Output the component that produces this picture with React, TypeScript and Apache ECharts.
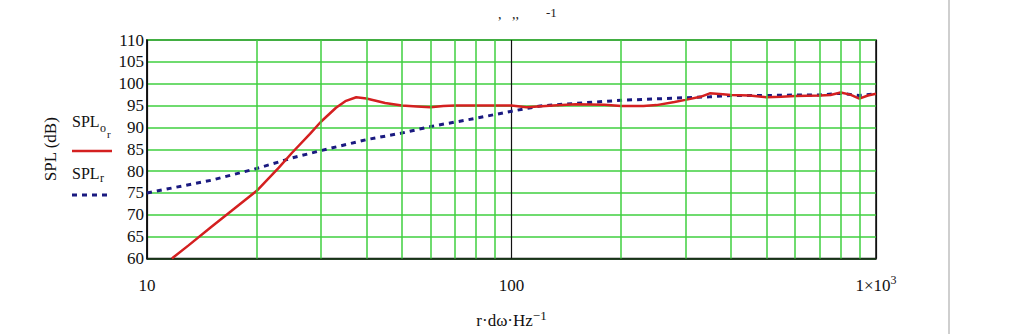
import React, { useEffect, useRef } from "react";
import * as echarts from "echarts";

const redFreq = [11.7, 13, 15, 17, 20, 23, 25, 28, 30, 33, 35, 37.5, 40, 45, 50, 55, 60, 65, 70, 80, 90, 100, 110, 130, 150, 180, 200, 230, 250, 280, 300, 330, 350, 380, 400, 450, 500, 550, 600, 700, 750, 800, 850, 900, 950, 1000];
const redSpl = [60, 63, 67.2, 70.8, 75.5, 80.8, 84.2, 88.5, 91.3, 94.5, 96, 96.9, 96.6, 95.6, 95.0, 94.8, 94.6, 94.9, 95.0, 95.0, 95.0, 95.0, 94.6, 95.0, 95.3, 95.2, 94.9, 94.9, 95.1, 95.8, 96.3, 97.0, 97.8, 97.6, 97.4, 97.3, 96.9, 97.0, 97.2, 97.3, 97.4, 98.0, 97.5, 96.6, 97.3, 97.7];

const blueFreq = [10, 15, 20, 25, 30, 40, 50, 60, 80, 100, 120, 150, 200, 300, 350, 400, 500, 600, 700, 800, 900, 1000];
const blueSpl = [75, 77.9, 80.6, 83, 84.7, 87.2, 88.7, 90.2, 92.1, 93.7, 94.9, 95.5, 96.2, 96.8, 97.0, 97.3, 97.3, 97.4, 97.4, 97.8, 97.3, 97.7];

const minorFreqs = [20, 30, 40, 50, 60, 70, 80, 90, 200, 300, 400, 500, 600, 700, 800, 900];
const yTicks = { min: 60, max: 110, interval: 5 };

const SERIF = "'Liberation Serif', 'Times New Roman', serif";

export default function App() {
  const ref = useRef<HTMLDivElement>(null);
  useEffect(() => {
    const chart = echarts.init(ref.current!, null, { renderer: "svg" });
    const green = "#3fcf3f";
    chart.setOption({
      animation: false,
      backgroundColor: "#ffffff",
      textStyle: { fontFamily: SERIF, color: "#000" },
      grid: { left: 147, right: 148, top: 40, bottom: 66, show: true, borderColor: "#111", borderWidth: 1.5, backgroundColor: "transparent" },
      xAxis: {
        type: "log",
        logBase: 10,
        min: 10,
        max: 1000,
        axisLine: { show: true, lineStyle: { color: "#111", width: 1.5 } },
        axisTick: { show: false },
        splitLine: { show: true, lineStyle: { color: "#111", width: 1.2 } },
        axisLabel: {
          margin: 15,
          fontSize: 17,
          fontFamily: SERIF,
          color: "#111",
          formatter: (v: number) => (Math.round(v) === 1000 ? "{b|1×10}{sup|3}" : "{b|" + Math.round(v) + "}"),
          rich: {
            b: { fontSize: 17, lineHeight: 24, fontFamily: SERIF, color: "#111" },
            sup: { fontSize: 12, lineHeight: 12, verticalAlign: "top", fontFamily: SERIF, color: "#111" },
          },
        },
        name: "{b|r·dω·Hz}{sup|−1}",
        nameLocation: "middle",
        nameGap: 50,
        nameTextStyle: {
          rich: {
            b: { fontSize: 17, lineHeight: 24, fontFamily: SERIF, color: "#111" },
            sup: { fontSize: 13, lineHeight: 13, verticalAlign: "top", fontFamily: SERIF, color: "#111" },
          },
        },
      },
      yAxis: {
        type: "value",
        min: yTicks.min,
        max: yTicks.max,
        interval: yTicks.interval,
        axisLine: { show: true, lineStyle: { color: "#111", width: 1.5 } },
        axisTick: { show: false },
        splitLine: { show: true, lineStyle: { color: green, width: 1.5 } },
        axisLabel: { margin: 3, fontSize: 17, fontFamily: SERIF, color: "#111" },
        name: "SPL (dB)",
        nameLocation: "middle",
        nameRotate: 90,
        nameGap: 88,
        nameTextStyle: { fontSize: 17, fontFamily: SERIF, color: "#111" },
      },
      series: [
        {
          type: "line",
          data: [],
          silent: true,
          z: 1,
          markLine: {
            silent: true,
            symbol: "none",
            label: { show: false },
            lineStyle: { color: green, width: 1.5, type: "solid" },
            data: minorFreqs.map((f) => ({ xAxis: f })),
          },
        },
        {
          name: "SPLr",
          type: "line",
          data: blueFreq.map((f, i) => [f, blueSpl[i]]),
          showSymbol: false,
          smooth: false,
          z: 3,
          lineStyle: { color: "#1a1a80", width: 3, type: [5, 5], cap: "butt" },
        },
        {
          name: "SPLor",
          type: "line",
          data: redFreq.map((f, i) => [f, redSpl[i]]),
          showSymbol: false,
          smooth: false,
          z: 4,
          lineStyle: { color: "#d42020", width: 2.5 },
        },
      ],
      graphic: [
        { type: "text", left: 72, top: 113, style: { text: "SPL", fontSize: 16, fontFamily: SERIF, fill: "#111" } },
        { type: "text", left: 100, top: 122, style: { text: "o", fontSize: 12, fontFamily: SERIF, fill: "#111" } },
        { type: "text", left: 107, top: 128, style: { text: "r", fontSize: 11, fontFamily: SERIF, fill: "#111" } },
        { type: "line", shape: { x1: 72, y1: 151, x2: 112, y2: 151 }, style: { stroke: "#d42020", lineWidth: 2.5 } },
        { type: "text", left: 72, top: 165, style: { text: "SPL", fontSize: 16, fontFamily: SERIF, fill: "#111" } },
        { type: "text", left: 100, top: 172, style: { text: "r", fontSize: 12, fontFamily: SERIF, fill: "#111" } },
        { type: "line", shape: { x1: 72, y1: 195, x2: 111, y2: 195 }, style: { stroke: "#1a1a80", lineWidth: 3, lineDash: [5, 5] } },
        { type: "text", left: 498, top: 7, style: { text: ",   ,,", fontSize: 14, fontFamily: SERIF, fill: "#222" } },
        { type: "text", left: 546, top: 6, style: { text: "-1", fontSize: 13, fontFamily: SERIF, fill: "#222" } },
        { type: "rect", shape: { x: 948, y: 0, width: 2, height: 334 }, style: { fill: "#cfcfcf" } },
      ],
    });
    return () => chart.dispose();
  }, []);
  return <div ref={ref} style={{ position: "fixed", left: 0, top: 0, width: 1024, height: 334 }} />;
}
